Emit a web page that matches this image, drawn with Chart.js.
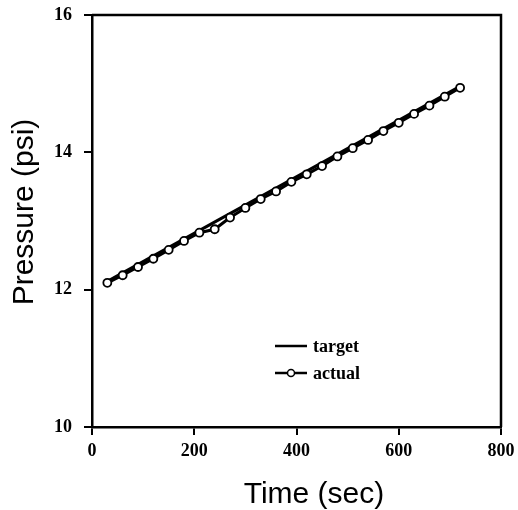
<!DOCTYPE html>
<html>
<head>
<meta charset="utf-8">
<script src="https://cdn.jsdelivr.net/npm/chart.js@4"></script>
<style>
  html, body { margin: 0; padding: 0; background: #fff; }
  #wrap { width: 518px; height: 510px; position: relative; }
</style>
</head>
<body>
<div id="wrap"><canvas id="pressureChart" width="518" height="510"></canvas></div>
<script>
// pressure ramp: target vs actual

const times = [30, 60, 90, 120, 150, 180, 210, 240, 270, 300, 330, 360,
               390, 420, 450, 480, 510, 540, 570, 600, 630, 660, 690, 720];
const actualPressure = [12.10, 12.21, 12.33, 12.45, 12.58, 12.71, 12.83, 12.88,
                        13.05, 13.19, 13.32, 13.43, 13.57, 13.68, 13.80, 13.94,
                        14.06, 14.18, 14.31, 14.43, 14.56, 14.68, 14.81, 14.94];
const targetTimes = [30, 720];
const targetPressure = [12.12, 14.96];

const xTicks = [0, 200, 400, 600, 800];
const yTicks = [10, 12, 14, 16];

const serifBold = { family: '"Liberation Serif", "Times New Roman", serif', size: 18, weight: 'bold' };
const sansTitle = '30px "Liberation Sans", Arial, sans-serif';

function toPoints(xs, ys) {
    return xs.map((x, i) => ({ x: x, y: ys[i] }));
}

// box around the plot + axis titles + legend inside the plot
const framePlugin = {
    id: 'frame',
    afterDraw(chart) {
        const ctx = chart.ctx;
        const a = chart.chartArea;
        ctx.save();
        ctx.strokeStyle = '#000';
        ctx.lineWidth = 2.5;
        ctx.beginPath();
        ctx.moveTo(a.left, a.top);
        ctx.lineTo(a.right, a.top);
        ctx.lineTo(a.right, a.bottom);
        ctx.stroke();

        // axis titles
        ctx.fillStyle = '#000';
        ctx.font = sansTitle;
        ctx.textAlign = 'center';
        ctx.textBaseline = 'alphabetic';
        ctx.fillText('Time (sec)', 314, 503);
        ctx.translate(33, 212);
        ctx.rotate(-Math.PI / 2);
        ctx.fillText('Pressure (psi)', 0, 0);
        ctx.restore();

        // legend
        ctx.save();
        ctx.strokeStyle = '#000';
        ctx.fillStyle = '#000';
        ctx.lineWidth = 2.5;
        ctx.font = 'bold 18px "Liberation Serif", "Times New Roman", serif';
        ctx.textAlign = 'left';
        ctx.textBaseline = 'middle';
        const items = [chart.data.datasets[1], chart.data.datasets[0]];
        items.forEach((ds, i) => {
            const y = 346 + i * 27;
            ctx.beginPath();
            ctx.moveTo(275, y);
            ctx.lineTo(307, y);
            ctx.stroke();
            if (ds.pointRadius > 0) {
                ctx.save();
                ctx.fillStyle = '#fff';
                ctx.lineWidth = 1.5;
                ctx.beginPath();
                ctx.arc(291, y, 3.5, 0, Math.PI * 2);
                ctx.fill();
                ctx.stroke();
                ctx.restore();
            }
            ctx.fillText(ds.label, 313, y + 1);
        });
        ctx.restore();
    }
};

const ctx = document.getElementById('pressureChart').getContext('2d');
new Chart(ctx, {
    type: 'line',
    data: {
        datasets: [
            {
                label: 'actual',
                data: toPoints(times, actualPressure),
                borderColor: '#000',
                borderWidth: 3,
                pointRadius: 4,
                pointBackgroundColor: '#fff',
                pointBorderColor: '#000',
                pointBorderWidth: 1.8,
                tension: 0,
                order: 0
            },
            {
                label: 'target',
                data: toPoints(targetTimes, targetPressure),
                borderColor: '#000',
                borderWidth: 3,
                pointRadius: 0,
                tension: 0,
                order: 1
            }
        ]
    },
    options: {
        responsive: false,
        animation: false,
        layout: { padding: { left: 0, right: 17, top: 15, bottom: 0 } },
        plugins: {
            legend: { display: false },
            tooltip: { enabled: false }
        },
        scales: {
            x: {
                type: 'linear',
                min: 0,
                max: 800,
                afterBuildTicks: (axis) => { axis.ticks = xTicks.map(v => ({ value: v })); },
                afterFit: (axis) => { axis.height = 83; axis.paddingRight = 0; axis.paddingLeft = 0; },
                border: { color: '#000', width: 2.5 },
                grid: { drawOnChartArea: false, drawTicks: true, tickLength: 8, color: '#000', lineWidth: 2 },
                ticks: { color: '#000', font: serifBold, padding: 6, maxRotation: 0 },
                title: { display: false }
            },
            y: {
                type: 'linear',
                min: 10,
                max: 16,
                afterBuildTicks: (axis) => { axis.ticks = yTicks.map(v => ({ value: v })); },
                afterFit: (axis) => { axis.width = 92; axis.paddingTop = 0; axis.paddingBottom = 0; },
                border: { color: '#000', width: 2.5 },
                grid: { drawOnChartArea: false, drawTicks: true, tickLength: 8, color: '#000', lineWidth: 2 },
                ticks: { color: '#000', font: serifBold, padding: 12 },
                title: { display: false }
            }
        }
    },
    plugins: [framePlugin]
});
</script>
</body>
</html>
